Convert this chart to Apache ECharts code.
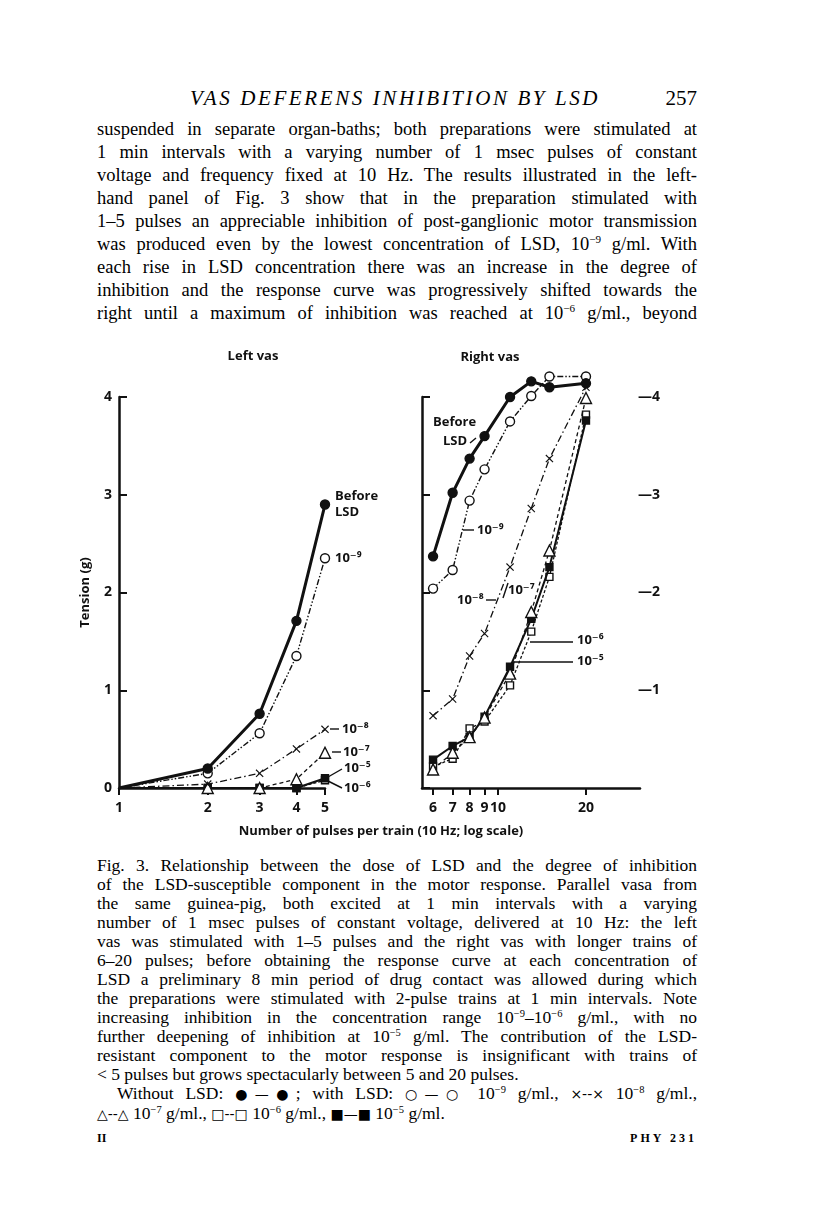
<!DOCTYPE html>
<html>
<head>
<meta charset="utf-8">
<script src="https://cdn.jsdelivr.net/npm/echarts@6/dist/echarts.min.js"></script>
<style>
  html, body { margin: 0; padding: 0; background: #fff; }
  body { width: 816px; height: 1218px; position: relative; overflow: hidden;
         font-family: "Liberation Serif", "DejaVu Serif", serif; color: #000; }
  .head { position: absolute; top: 85px; left: 97px; width: 600px; height: 26px; font-size: 21px; line-height: 26px; }
  .head .t { position: absolute; left: 93px; font-style: italic; letter-spacing: 2.6px; }
  .head .p { position: absolute; right: 0; }
  .body { position: absolute; top: 118px; left: 97px; width: 600px; font-size: 18.5px; line-height: 23px; }
  .cap { position: absolute; top: 856px; left: 97px; width: 600px; font-size: 17.5px; line-height: 19px; }
  .ln { text-align: justify; text-align-last: justify; }
  .last { text-align: left; text-align-last: left; }
  .ind { padding-left: 20px; }
  .g { font-family: "DejaVu Sans", sans-serif; font-size: 14px; }
  sup { font-size: 0.6em; line-height: 0; vertical-align: 0.6em; }
  .foot { position: absolute; top: 1131px; left: 97px; width: 600px; font-size: 12px; font-weight: bold; }
  .foot .r { position: absolute; right: 0; top: 0; letter-spacing: 3px; }
  #chart { position: absolute; left: 0; top: 340px; width: 816px; height: 510px; }
</style>
</head>
<body>
<div class="head"><span class="t">VAS DEFERENS INHIBITION BY LSD</span><span class="p">257</span></div>
<div class="body">
  <div class="ln">suspended in separate organ-baths; both preparations were stimulated at</div>
  <div class="ln">1 min intervals with a varying number of 1 msec pulses of constant</div>
  <div class="ln">voltage and frequency fixed at 10 Hz. The results illustrated in the left-</div>
  <div class="ln">hand panel of Fig. 3 show that in the preparation stimulated with</div>
  <div class="ln">1–5 pulses an appreciable inhibition of post-ganglionic motor transmission</div>
  <div class="ln">was produced even by the lowest concentration of LSD, 10<sup>−9</sup> g/ml. With</div>
  <div class="ln">each rise in LSD concentration there was an increase in the degree of</div>
  <div class="ln">inhibition and the response curve was progressively shifted towards the</div>
  <div class="ln">right until a maximum of inhibition was reached at 10<sup>−6</sup> g/ml., beyond</div>
</div>
<div id="chart"></div>
<div class="cap">
  <div class="ln">Fig. 3. Relationship between the dose of LSD and the degree of inhibition</div>
  <div class="ln">of the LSD-susceptible component in the motor response. Parallel vasa from</div>
  <div class="ln">the same guinea-pig, both excited at 1 min intervals with a varying</div>
  <div class="ln">number of 1 msec pulses of constant voltage, delivered at 10 Hz: the left</div>
  <div class="ln">vas was stimulated with 1–5 pulses and the right vas with longer trains of</div>
  <div class="ln">6–20 pulses; before obtaining the response curve at each concentration of</div>
  <div class="ln">LSD a preliminary 8 min period of drug contact was allowed during which</div>
  <div class="ln">the preparations were stimulated with 2-pulse trains at 1 min intervals. Note</div>
  <div class="ln">increasing inhibition in the concentration range 10<sup>−9</sup>–10<sup>−6</sup> g/ml., with no</div>
  <div class="ln">further deepening of inhibition at 10<sup>−5</sup> g/ml. The contribution of the LSD-</div>
  <div class="ln">resistant component to the motor response is insignificant with trains of</div>
  <div class="ln last">&lt; 5 pulses but grows spectacularly between 5 and 20 pulses.</div>
  <div class="ln ind">Without LSD: <span class="g">●—●</span>; with LSD: <span class="g">○—○</span> 10<sup>−9</sup> g/ml., <span class="g">×--×</span> 10<sup>−8</sup> g/ml.,</div>
  <div class="ln last"><span class="g">△--△</span> 10<sup>−7</sup> g/ml., <span class="g">□--□</span> 10<sup>−6</sup> g/ml., <span class="g">■—■</span> 10<sup>−5</sup> g/ml.</div>
</div>
<div class="foot"><span>II</span><span class="r">PHY 231</span></div>

<script>
// 左图：1-5 个脉冲
const leftPulses = [1, 2, 3, 4, 5];
const leftBefore = [0, 0.2, 0.76, 1.71, 2.9];
const left1e9 = [0, 0.15, 0.56, 1.35, 2.35];
const left1e8 = [0, 0.04, 0.15, 0.4, 0.6];
const left1e7 = [0, 0, 0, 0.09, 0.36];
const left1e6 = [0, 0, 0, 0, 0.08];
const left1e5 = [0, 0, 0, 0, 0.1];

// 右图：6-20 个脉冲
const rightPulses = [6, 7, 8, 9, 11, 13, 15, 20];
const rightBefore = [2.37, 3.02, 3.37, 3.6, 4.0, 4.16, 4.1, 4.14];
const right1e9 = [2.04, 2.23, 2.94, 3.26, 3.75, 4.01, 4.21, 4.21];
const right1e8 = [0.74, 0.91, 1.35, 1.58, 2.26, 2.86, 3.37, 4.1];
const right1e7 = [0.19, 0.36, 0.52, 0.72, 1.17, 1.8, 2.43, 3.99];
const right1e6 = [0.22, 0.3, 0.61, 0.68, 1.05, 1.6, 2.16, 3.82];
const right1e5 = [0.29, 0.43, 0.52, 0.73, 1.24, 1.73, 2.26, 3.76];

// 刻度
const leftTicks = [1, 2, 3, 4, 5];
const rightTicks = [6, 7, 8, 9, 10, 20];

const lg = Math.log10;
const ink = '#111';
const labelFont = { fontFamily: 'Open Sans', fontWeight: 'bold', color: ink };
const CROSS = 'path://M0,1L1,0L5,4L9,0L10,1L6,5L10,9L9,10L5,6L1,10L0,9L4,5Z';

// 原点 (1 个脉冲, 0) 不画符号
function pts(xs, ys) {
  return xs.map((x, i) => x === 1 ? { value: [lg(x), ys[i]], symbol: 'none' } : [lg(x), ys[i]]);
}

function line(idx, data, symbol, size, fill, dash, width, z) {
  return {
    type: 'line',
    xAxisIndex: idx,
    yAxisIndex: idx,
    data: data,
    clip: false,
    symbol: symbol,
    symbolSize: size,
    lineStyle: { color: ink, width: width, type: dash },
    itemStyle: { color: fill, borderColor: ink, borderWidth: symbol === CROSS ? 0 : 1.4 },
    emphasis: { disabled: true },
    z: z
  };
}

function xAxis(grid, lo, hi, ticks) {
  const vals = ticks.map(lg);
  return {
    gridIndex: grid, type: 'value', min: lg(lo), max: lg(hi),
    axisLine: { onZero: false, lineStyle: { color: ink, width: 2.5 } },
    axisTick: { customValues: vals, length: 7, lineStyle: { color: ink, width: 2 } },
    axisLabel: Object.assign({ customValues: vals, margin: 13, fontSize: 14,
      formatter: v => String(Math.round(Math.pow(10, v))) }, labelFont),
    splitLine: { show: false }
  };
}

function yAxis(grid, showLabel) {
  return {
    gridIndex: grid, type: 'value', min: 0, max: 4, interval: 1,
    axisLine: { show: true, onZero: false, lineStyle: { color: ink, width: 2.5 } },
    axisTick: { show: true, inside: true, length: 8, lineStyle: { color: ink, width: 2 } },
    axisLabel: Object.assign({ show: showLabel, margin: 7, fontSize: 14 }, labelFont),
    splitLine: { show: false }
  };
}

function txt(x, y, s, size) {
  return { type: 'text', x: x, y: y, style: { text: s, fill: ink,
    font: 'bold ' + (size || 13) + 'px "Open Sans", "DejaVu Sans"', verticalAlign: 'middle' } };
}
function seg(x1, y1, x2, y2) {
  return { type: 'line', shape: { x1: x1, y1: y1, x2: x2, y2: y2 }, style: { stroke: ink, lineWidth: 1.4 } };
}

const chart = echarts.init(document.getElementById('chart'));

const yLeft = yAxis(0, true);
yLeft.name = 'Tension (g)';
yLeft.nameLocation = 'middle';
yLeft.nameRotate = 90;
yLeft.nameGap = 27;
yLeft.nameTextStyle = Object.assign({ fontSize: 13 }, labelFont);

const yRightLabels = {
  gridIndex: 1, type: 'value', position: 'right', min: 0, max: 4, interval: 1,
  axisLine: { show: false }, axisTick: { show: false }, splitLine: { show: false },
  axisLabel: Object.assign({ margin: -2, fontSize: 14, formatter: v => v === 0 ? '' : '—' + v }, labelFont)
};

chart.setOption({
  animation: false,
  grid: [
    { left: 119, top: 57, width: 206, height: 391 },
    { left: 422, top: 57, width: 218, height: 391 }
  ],
  xAxis: [xAxis(0, 1, 5, leftTicks), xAxis(1, 5.5, 30.6, rightTicks)],
  yAxis: [yLeft, yAxis(1, false), yRightLabels],
  series: [
    line(0, pts(leftPulses, left1e6), 'rect', 7, '#fff', [3, 2], 1.3, 2),
    line(0, pts(leftPulses, left1e5), 'rect', 7, ink, 'solid', 2, 3),
    line(0, pts(leftPulses, left1e7), 'triangle', 11, '#fff', [4, 3], 1.3, 4),
    line(0, pts(leftPulses, left1e8), CROSS, 8, ink, [7, 3, 1.5, 3], 1.3, 5),
    line(0, pts(leftPulses, left1e9), 'circle', 9, '#fff', [6, 2, 1.5, 2, 1.5, 2], 1.4, 6),
    line(0, pts(leftPulses, leftBefore), 'circle', 9, ink, 'solid', 3, 7),
    line(1, pts(rightPulses, right1e6), 'rect', 7, '#fff', [3, 2], 1.3, 2),
    line(1, pts(rightPulses, right1e5), 'rect', 7, ink, 'solid', 2, 3),
    line(1, pts(rightPulses, right1e7), 'triangle', 11, '#fff', [4, 3], 1.3, 4),
    line(1, pts(rightPulses, right1e8), CROSS, 8, ink, [7, 3, 1.5, 3], 1.3, 5),
    line(1, pts(rightPulses, right1e9), 'circle', 9, '#fff', [6, 2, 1.5, 2, 1.5, 2], 1.4, 6),
    line(1, pts(rightPulses, rightBefore), 'circle', 9, ink, 'solid', 3, 7)
  ],
  graphic: [
    { type: 'text', x: 253, y: 16, style: { text: 'Left vas', fill: ink, align: 'center', verticalAlign: 'middle', font: 'bold 13px "Open Sans"' } },
    { type: 'text', x: 490, y: 17, style: { text: 'Right vas', fill: ink, align: 'center', verticalAlign: 'middle', font: 'bold 13px "Open Sans"' } },
    { type: 'text', x: 381, y: 491, style: { text: 'Number of pulses per train (10 Hz; log scale)', fill: ink, align: 'center', verticalAlign: 'middle', font: 'bold 13px "Open Sans"' } },
    // 左图标注
    txt(335, 156, 'Before'), txt(335, 172, 'LSD'),
    txt(335, 218, '10⁻⁹'),
    seg(330, 389, 339, 389), txt(342, 389, '10⁻⁸'),
    seg(332, 412, 341, 412), txt(343, 412, '10⁻⁷'),
    seg(328, 437, 342, 429), txt(344, 428, '10⁻⁵'),
    seg(328, 441, 342, 448), txt(344, 448, '10⁻⁶'),
    // 右图标注
    txt(433, 82, 'Before'), txt(443, 101, 'LSD'), seg(470, 103, 476, 98),
    seg(463, 190, 474, 190), txt(477, 190, '10⁻⁹'),
    txt(457, 260, '10⁻⁸'), seg(486, 260, 496, 260),
    seg(503, 258, 508, 243), txt(508, 250, '10⁻⁷'),
    seg(530, 302, 573, 302), txt(577, 300, '10⁻⁶'),
    seg(513, 322, 573, 322), txt(577, 321, '10⁻⁵')
  ]
});
</script>
</body>
</html>
